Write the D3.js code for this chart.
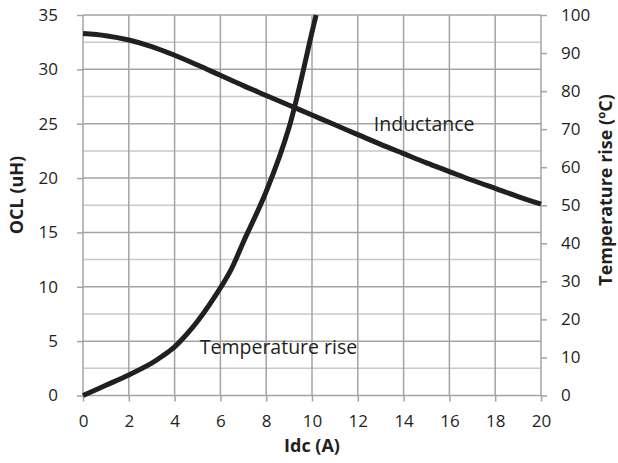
<!DOCTYPE html>
<html>
<head>
<meta charset="utf-8">
<script src="https://cdn.jsdelivr.net/npm/d3@7"></script>
<style>
  body { margin: 0; background: #fff; }
  svg text { font-family: 'Open Sans', sans-serif; fill: #231f20; }
</style>
</head>
<body>
<div class="chart"></div>
<script>
// Data

const idcInd = [0, 1, 2, 3, 4, 5, 6, 7, 8, 9, 10, 11, 12, 13, 14, 15, 16, 17, 18, 19, 20]
const inductance = [33.3, 33.1, 32.7, 32.1, 31.3, 30.4, 29.45, 28.5, 27.6, 26.7, 25.8, 24.9, 24.0, 23.1, 22.25, 21.4, 20.6, 19.8, 19.05, 18.3, 17.6]

const idcTemp = [0, 1, 2, 3, 3.5, 4, 4.5, 5, 6, 6.5, 7, 8, 9, 10, 10.18]
const tempRise = [0, 2.7, 5.4, 8.5, 10.5, 12.8, 15.9, 19.5, 28.3, 33.5, 40.3, 53.6, 70.5, 95.5, 100]

const xTicks = [0, 2, 4, 6, 8, 10, 12, 14, 16, 18, 20]
const yLeftTicks = [0, 5, 10, 15, 20, 25, 30, 35]
const yLeftMinor = [2.5, 7.5, 12.5, 17.5, 22.5, 27.5, 32.5]
const yRightTicks = [0, 10, 20, 30, 40, 50, 60, 70, 80, 90, 100]

const drawChart = () => {
  const W = 618
  const H = 463
  const margin = {top: 15, right: 77, bottom: 67.5, left: 83}
  const width = W - margin.left - margin.right
  const height = H - margin.top - margin.bottom

  const x = d3.scaleLinear().domain([0, 20]).range([0, width])
  const yL = d3.scaleLinear().domain([0, 35]).range([height, 0])
  const yR = d3.scaleLinear().domain([0, 100]).range([height, 0])

  const svg = d3.select('.chart')
    .append('svg')
      .attr('width', W)
      .attr('height', H)

  const g = svg.append('g')
      .attr('transform', `translate(${margin.left},${margin.top})`)

  // grid
  g.append('g')
    .selectAll('line')
    .data(yLeftMinor)
    .enter().append('line')
      .attr('x1', 0).attr('x2', width)
      .attr('y1', (d) => yL(d)).attr('y2', (d) => yL(d))
      .style('stroke', '#c9c9cb')
      .style('stroke-width', 1.5)

  g.append('g')
    .selectAll('line')
    .data(yLeftTicks)
    .enter().append('line')
      .attr('x1', 0).attr('x2', width)
      .attr('y1', (d) => yL(d)).attr('y2', (d) => yL(d))
      .style('stroke', '#a3a3a5')
      .style('stroke-width', 1.5)

  g.append('g')
    .selectAll('line')
    .data(xTicks)
    .enter().append('line')
      .attr('x1', (d) => x(d)).attr('x2', (d) => x(d))
      .attr('y1', 0).attr('y2', height)
      .style('stroke', '#a3a3a5')
      .style('stroke-width', 1.5)

  // axes
  const styleAxis = (sel) => {
    sel.select('.domain').remove()
    sel.selectAll('.tick line').style('stroke', '#a3a3a5').style('stroke-width', 1.5)
    sel.selectAll('.tick text')
      .style('font-size', '17px')
      .style('font-family', "'Open Sans', sans-serif")
      .attr('fill', '#231f20')
  }

  g.append('g')
      .attr('transform', `translate(0,${height})`)
      .call(d3.axisBottom(x).tickValues(xTicks).tickSize(6).tickPadding(13))
      .call(styleAxis)

  g.append('g')
      .call(d3.axisLeft(yL).tickValues(yLeftTicks).tickSize(6).tickPadding(19))
      .call(styleAxis)

  g.append('g')
      .attr('transform', `translate(${width},0)`)
      .call(d3.axisRight(yR).tickValues(yRightTicks).tickSize(6).tickPadding(14))
      .call(styleAxis)

  // curves
  const lineInd = d3.line()
    .x((d, i) => x(idcInd[i]))
    .y((d) => yL(d))
    .curve(d3.curveCatmullRom.alpha(0.5))

  const lineTemp = d3.line()
    .x((d, i) => x(idcTemp[i]))
    .y((d) => yR(d))
    .curve(d3.curveCatmullRom.alpha(0.5))

  g.append('path')
      .datum(inductance)
      .attr('d', lineInd)
      .style('fill', 'none')
      .style('stroke', '#231f20')
      .style('stroke-width', 5)

  g.append('path')
      .datum(tempRise)
      .attr('d', lineTemp)
      .style('fill', 'none')
      .style('stroke', '#231f20')
      .style('stroke-width', 5)

  // series labels
  g.append('text')
      .attr('x', x(12.7))
      .attr('y', yL(24.3))
      .style('font-size', '19.5px')
      .text('Inductance')

  g.append('text')
      .attr('x', x(5.1))
      .attr('y', yL(3.8))
      .style('font-size', '19.5px')
      .text('Temperature rise')

  // axis titles
  svg.append('text')
      .attr('x', margin.left + width / 2)
      .attr('y', 452)
      .attr('text-anchor', 'middle')
      .style('font-size', '18px')
      .style('font-weight', 'bold')
      .text('Idc (A)')

  svg.append('text')
      .attr('transform', 'translate(23,195) rotate(-90)')
      .attr('text-anchor', 'middle')
      .style('font-size', '18px')
      .style('font-weight', 'bold')
      .text('OCL (uH)')

  svg.append('text')
      .attr('transform', 'translate(612,190) rotate(-90)')
      .attr('text-anchor', 'middle')
      .style('font-size', '18px')
      .style('font-weight', 'bold')
      .text('Temperature rise (ºC)')
}

drawChart()
</script>
</body>
</html>
